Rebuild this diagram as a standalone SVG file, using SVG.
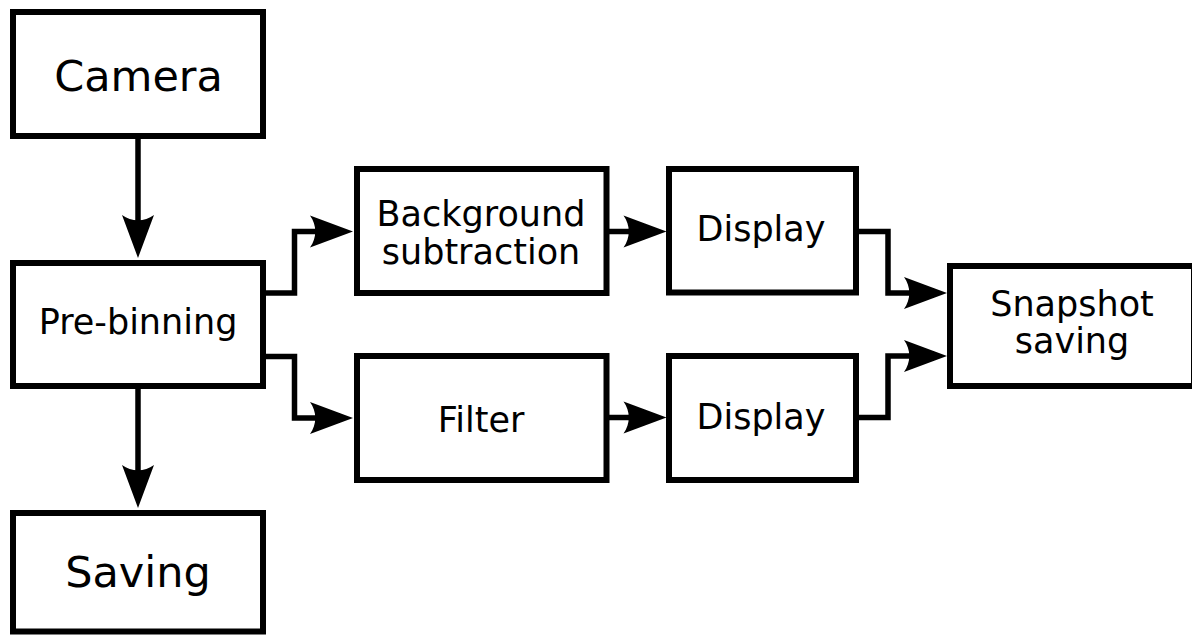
<svg xmlns="http://www.w3.org/2000/svg" xmlns:xlink="http://www.w3.org/1999/xlink" width="1192" height="637" viewBox="0 0 1192 637">
  <defs>
    <style>
      .box { fill: #ffffff; stroke: #000000; stroke-width: 6; }
      .conn { fill: none; stroke: #000000; stroke-width: 5.5; stroke-linejoin: miter; }
      .lbl { font-family: "DejaVu Sans", Verdana, sans-serif; font-size: 35px; fill: #000000; text-anchor: middle; }
      .big { font-size: 43px; }
    </style>
    <marker id="ah" markerUnits="userSpaceOnUse" orient="auto" refX="0" refY="0" markerWidth="60" markerHeight="40" viewBox="-10 -20 50 40" overflow="visible">
      <path d="M36,0 L-7,-16 C0,-6.5 0,6.5 -7,16 Z" fill="#000000"/>
    </marker>
  </defs>
  <rect width="1192" height="637" fill="#ffffff"/>

  <g id="connectors">
    <path class="conn" d="M138,139 V222" marker-end="url(#ah)"/>
    <path class="conn" d="M138,389 V472" marker-end="url(#ah)"/>
    <path class="conn" d="M263,293 H294.5 V231.5 H317" marker-end="url(#ah)"/>
    <path class="conn" d="M263,356.5 H294.5 V418 H317" marker-end="url(#ah)"/>
    <path class="conn" d="M606.5,231.5 H630.5" marker-end="url(#ah)"/>
    <path class="conn" d="M606.5,417.5 H630.5" marker-end="url(#ah)"/>
    <path class="conn" d="M856,231.5 H888 V293 H911" marker-end="url(#ah)"/>
    <path class="conn" d="M856,417.5 H888 V356 H911" marker-end="url(#ah)"/>
  </g>

  <g id="camera">
    <rect class="box" x="13" y="12" width="250" height="124"/>
    <text class="lbl big" x="138.5" y="91">Camera</text>
  </g>
  <g id="prebinning">
    <rect class="box" x="13" y="263" width="250" height="123"/>
    <text class="lbl" x="138" y="334">Pre-binning</text>
  </g>
  <g id="saving">
    <rect class="box" x="13" y="513" width="250" height="118.5"/>
    <text class="lbl big" x="138" y="587">Saving</text>
  </g>
  <g id="background-subtraction">
    <rect class="box" x="357" y="169" width="249.5" height="124"/>
    <text class="lbl" x="481" y="226">Background</text>
    <text class="lbl" x="481" y="264">subtraction</text>
  </g>
  <g id="filter">
    <rect class="box" x="357" y="356" width="249.5" height="124"/>
    <text class="lbl" x="481" y="431.5">Filter</text>
  </g>
  <g id="display1">
    <rect class="box" x="669" y="169" width="187" height="123.5"/>
    <text class="lbl" x="761" y="240.5">Display</text>
  </g>
  <g id="display2">
    <rect class="box" x="669" y="356" width="187" height="124"/>
    <text class="lbl" x="761" y="428.5">Display</text>
  </g>
  <g id="snapshot-saving">
    <rect class="box" x="950" y="266" width="244" height="120"/>
    <text class="lbl" x="1072" y="315.5">Snapshot</text>
    <text class="lbl" x="1072" y="353">saving</text>
  </g>
</svg>
